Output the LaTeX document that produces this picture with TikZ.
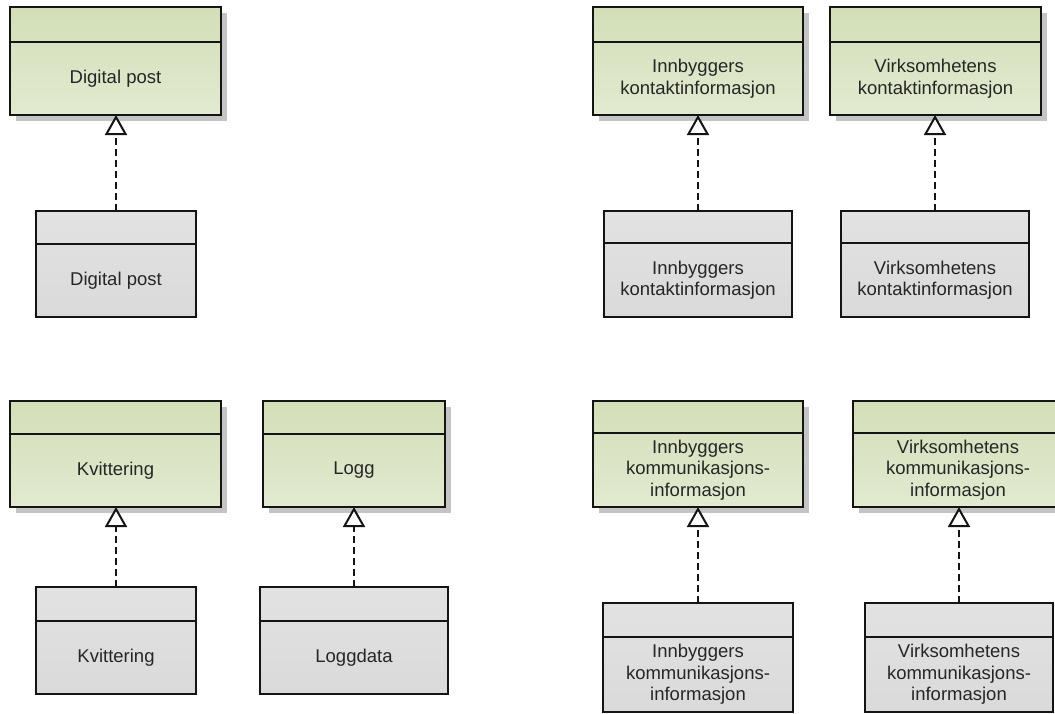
\documentclass[tikz,border=0pt]{standalone}
\usepackage{fontspec}
\setmainfont{Liberation Sans}
\usetikzlibrary{arrows.meta,shadows,calc}

\definecolor{clsGreenTop}{RGB}{211,222,184}
\definecolor{clsGreenBot}{RGB}{226,234,208}
\definecolor{clsGrayTop}{RGB}{226,226,226}
\definecolor{clsGrayBot}{RGB}{218,218,218}
\definecolor{lineInk}{RGB}{20,20,20}
\definecolor{textInk}{RGB}{38,38,38}
\definecolor{shadowInk}{RGB}{196,196,196}

\tikzset{
  classbox/.style={rectangle, draw=lineInk, line width=2pt, inner sep=0pt, outer sep=0pt},
  specbox/.style={classbox, top color=clsGreenTop, bottom color=clsGreenBot,
    drop shadow={shadow xshift=6pt, shadow yshift=-6pt, fill=shadowInk, opacity=1}},
  implbox/.style={classbox, top color=clsGrayTop, bottom color=clsGrayBot},
  divider/.style={draw=lineInk, line width=2pt},
  classtext/.style={text=textInk, align=center, inner sep=0pt,
    font=\fontsize{18.5}{21.5}\selectfont},
  realizes/.style={draw=lineInk, line width=2pt, dash pattern=on 7pt off 4pt,
    -{Triangle[open, length=20pt, width=22pt, fill=white]}}
}

% #1 name, #2 style, #3 left, #4 top, #5 right, #6 bottom, #7 divider, #8 text
\newcommand\umlclass[8]{%
  \node[#2, minimum width={(#5-#3)*1pt}, minimum height={(#6-#4)*1pt}]
    (#1) at ({(#3+#5)/2},{(#4+#6)/2}) {};
  \draw[divider] (#1.west |- 0,#7) -- (#1.east |- 0,#7);
  \node[classtext] (#1-text) at ({(#3+#5)/2},{(#7+#6)/2}) {#8};
}

\begin{document}
\begin{tikzpicture}[x=1pt, y=-1pt]
  \useasboundingbox (0,0) rectangle (1055,713);
  \clip (0,0) rectangle (1055,713);

  % specifications (green)
  \umlclass{gDigital}{specbox}{10}{7}{221}{115}{42}{Digital post}
  \umlclass{gInnKontakt}{specbox}{593}{7}{803}{115}{42}{Innbyggers\\kontaktinformasjon}
  \umlclass{gVirKontakt}{specbox}{830}{7}{1041}{115}{42}{Virksomhetens\\kontaktinformasjon}
  \umlclass{gKvittering}{specbox}{10}{401}{221}{507}{434}{Kvittering}
  \umlclass{gLogg}{specbox}{263}{401}{445}{507}{434}{Logg}
  \umlclass{gInnKomm}{specbox}{593}{401}{803}{507}{433}{Innbyggers\\kommunikasjons-\\informasjon}
  \umlclass{gVirKomm}{specbox}{853}{401}{1063}{507}{433}{Virksomhetens\\kommunikasjons-\\informasjon}

  % realizations (gray)
  \umlclass{wDigital}{implbox}{36}{211}{196}{317}{244}{Digital post}
  \umlclass{wInnKontakt}{implbox}{604}{211}{792}{317}{243}{Innbyggers\\kontaktinformasjon}
  \umlclass{wVirKontakt}{implbox}{841}{211}{1029}{317}{243}{Virksomhetens\\kontaktinformasjon}
  \umlclass{wKvittering}{implbox}{36}{587}{196}{694}{621}{Kvittering}
  \umlclass{wLoggdata}{implbox}{260}{587}{448}{694}{621}{Loggdata}
  \umlclass{wInnKomm}{implbox}{603}{603}{793}{712}{637}{Innbyggers\\kommunikasjons-\\informasjon}
  \umlclass{wVirKomm}{implbox}{865}{603}{1053}{712}{637}{Virksomhetens\\kommunikasjons-\\informasjon}

  % realization arrows
  \draw[realizes] (wDigital.north) -- (wDigital.north |- gDigital.south);
  \draw[realizes] (wInnKontakt.north) -- (wInnKontakt.north |- gInnKontakt.south);
  \draw[realizes] (wVirKontakt.north) -- (wVirKontakt.north |- gVirKontakt.south);
  \draw[realizes] (wKvittering.north) -- (wKvittering.north |- gKvittering.south);
  \draw[realizes] (wLoggdata.north) -- (wLoggdata.north |- gLogg.south);
  \draw[realizes] (wInnKomm.north) -- (wInnKomm.north |- gInnKomm.south);
  \draw[realizes] (wVirKomm.north) -- (wVirKomm.north |- gVirKomm.south);
\end{tikzpicture}
\end{document}
